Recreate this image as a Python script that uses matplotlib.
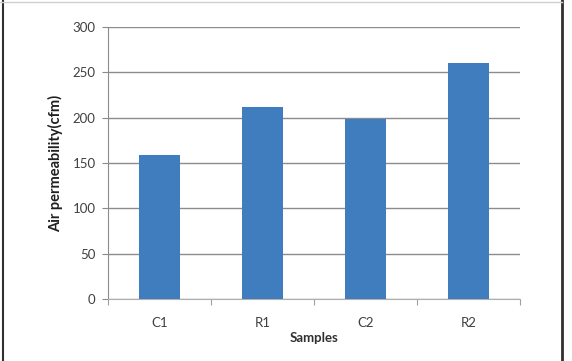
import matplotlib.pyplot as plt
import matplotlib.lines as mlines
import numpy as np

samples = ["C1", "R1", "C2", "R2"]
permeability = [159, 212, 198, 260]
y_ticks = [0, 50, 100, 150, 200, 250, 300]

plt.rcParams["font.family"] = ["Lato", "DejaVu Sans"]

fig = plt.figure(figsize=(5.72, 3.61), dpi=100)
ax = fig.add_axes([108 / 572, 62 / 361, 412 / 572, 272 / 361])

x = np.arange(len(samples))
ax.bar(x, permeability, width=0.4, color="#3f7dbf", zorder=3)

ax.set_xlim(-0.5, len(samples) - 0.5)
ax.set_ylim(0, 300)
ax.set_yticks(y_ticks)
ax.set_yticklabels([str(t) for t in y_ticks], fontsize=9.5, color="#404040")
ax.yaxis.grid(True, color="#8c8c8c", linewidth=1, zorder=0)

# category labels centred, tick marks on the category boundaries
ax.set_xticks(x)
ax.set_xticklabels(samples, fontsize=9.5, color="#404040")
ax.tick_params(axis="x", length=0, pad=13)
ax.set_xticks(np.arange(-0.5, len(samples)), minor=True)
ax.tick_params(axis="x", which="minor", length=4, color="#a0a0a0", width=0.8)
ax.tick_params(axis="y", length=4, color="#8c8c8c", width=0.8, pad=5)

for side in ["top", "right"]:
    ax.spines[side].set_visible(False)
ax.spines["left"].set_color("#8c8c8c")
ax.spines["bottom"].set_color("#b0b0b0")

ax.set_xlabel("Samples", fontsize=9.5, fontweight="bold", color="#303030", labelpad=2)
ax.set_ylabel("Air permeability(cfm)", fontsize=10.5, fontweight="bold",
              color="#202020", labelpad=7)

# outer frame of the pasted chart
fig.add_artist(mlines.Line2D([2.5 / 572, 2.5 / 572], [0, 1], color="#303030", linewidth=1.5))
fig.add_artist(mlines.Line2D([562 / 572, 562 / 572], [0, 1], color="#303030", linewidth=2))
fig.add_artist(mlines.Line2D([0, 562 / 572], [1 - 1.5 / 361, 1 - 1.5 / 361],
                             color="#d0d0d0", linewidth=1))

fig.savefig("out.png", dpi=100)
